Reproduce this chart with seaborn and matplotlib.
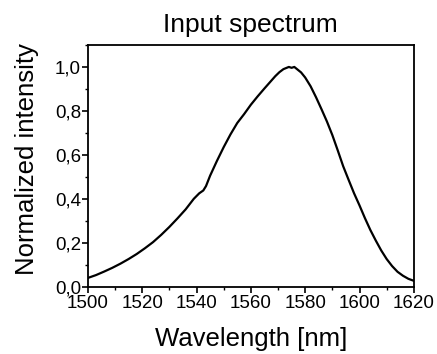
import numpy as np
import pandas as pd
import seaborn as sns
import matplotlib.pyplot as plt
from matplotlib.ticker import MultipleLocator

# values
wavelength = [1500, 1503, 1506, 1509, 1512, 1515, 1518, 1521, 1524, 1527, 1530,
              1533, 1536, 1539, 1541, 1542.5, 1543.5, 1545, 1547.5, 1550, 1552.5,
              1555, 1557.5, 1560, 1562.5, 1565, 1567, 1569, 1570.5, 1572, 1573,
              1574, 1575, 1576, 1577, 1578.5, 1580, 1582, 1584, 1586, 1588, 1590,
              1592, 1594, 1596, 1598, 1600, 1602, 1604, 1606, 1608, 1610, 1612,
              1614, 1616, 1618, 1620]
intensity = [0.040, 0.053, 0.069, 0.086, 0.105, 0.126, 0.149, 0.175, 0.203, 0.236, 0.272,
             0.311, 0.352, 0.400, 0.425, 0.438, 0.458, 0.505, 0.572, 0.635, 0.693,
             0.745, 0.785, 0.828, 0.866, 0.902, 0.930, 0.958, 0.976, 0.990, 0.995,
             1.000, 0.996, 1.000, 0.990, 0.975, 0.952, 0.912, 0.862, 0.808, 0.752, 0.690,
             0.620, 0.548, 0.486, 0.425, 0.370, 0.312, 0.258, 0.210, 0.165, 0.126, 0.094,
             0.068, 0.050, 0.036, 0.027]

xticks = [1500, 1520, 1540, 1560, 1580, 1600, 1620]
yticks = [0.0, 0.2, 0.4, 0.6, 0.8, 1.0]
ytick_labels = ["0,0", "0,2", "0,4", "0,6", "0,8", "1,0"]

df = pd.DataFrame({"Wavelength": wavelength, "Intensity": intensity})

sns.set_style("ticks")
plt.rcParams['font.family'] = ['Liberation Sans', 'DejaVu Sans']
plt.rcParams['text.color'] = 'black'
plt.rcParams['axes.labelcolor'] = 'black'

fig = plt.figure(figsize=(4.37, 3.54), dpi=100)
ax = fig.add_axes([0.201, 0.190, 0.746, 0.683])

sns.lineplot(data=df, x="Wavelength", y="Intensity", color="black", linewidth=1.6, ax=ax)

ax.set_xlim(1500, 1620)
ax.set_ylim(0, 1.1)
ax.set_xticks(xticks)
ax.set_yticks(yticks)
ax.set_yticklabels(ytick_labels)
ax.xaxis.set_minor_locator(MultipleLocator(10))
ax.yaxis.set_minor_locator(MultipleLocator(0.1))
ax.tick_params(which="major", direction="out", length=4, width=1.2, labelsize=13.5, colors="black")
ax.tick_params(axis="x", which="major", pad=2)
ax.tick_params(axis="y", which="major", pad=1)
ax.tick_params(which="minor", direction="out", length=2.5, width=1.0, colors="black")
for s in ax.spines.values():
    s.set_linewidth(1.3)
    s.set_color("black")

ax.set_xlabel("Wavelength [nm]", fontsize=18.5, labelpad=11)
ax.set_ylabel("Normalized intensity", fontsize=18.5, labelpad=11, y=0.53)
ax.set_title("Input spectrum", fontsize=19, pad=9)

fig.savefig("out.png", dpi=100)
